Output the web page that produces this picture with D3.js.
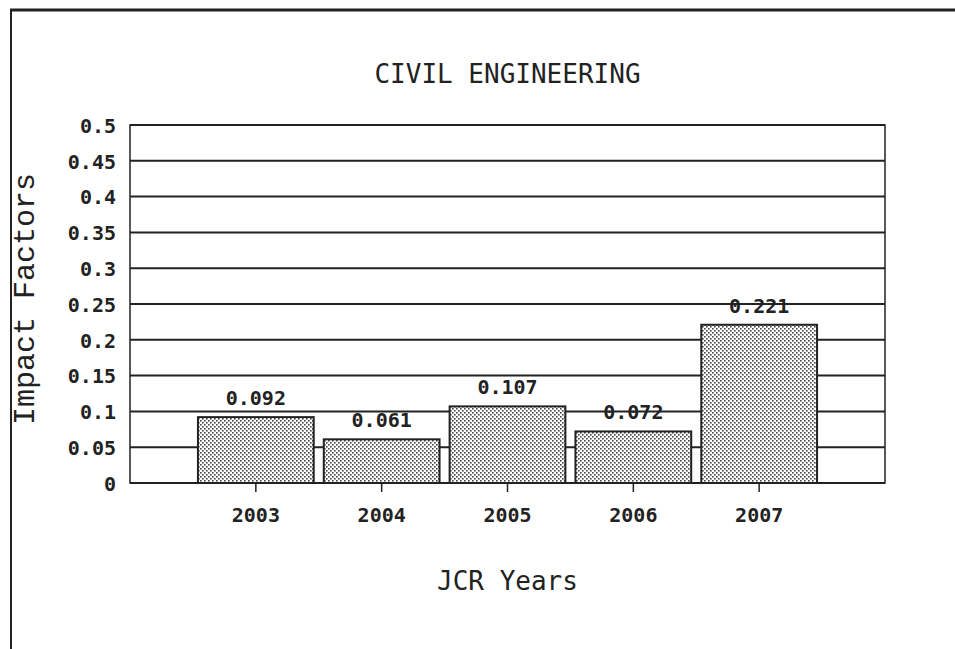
<!DOCTYPE html>
<html>
<head>
<meta charset="utf-8">
<script src="https://cdn.jsdelivr.net/npm/d3@7"></script>
<style>
    body { margin: 0; background: #fff; }
    .tick-label, .bar-label, .year-label {
        font-family: "DejaVu Sans Mono", monospace;
        font-weight: bold;
        font-size: 20px;
        fill: #222;
    }
    .chart-title, .axis-label {
        font-family: "DejaVu Sans Mono", monospace;
        font-size: 26px;
        fill: #222;
    }
    .y-label {
        font-family: "Liberation Mono", monospace;
        font-size: 30px;
        fill: #222;
    }
</style>
</head>
<body>
<script>
// Chart data
const years = ["2003", "2004", "2005", "2006", "2007"];
const impactFactors = [0.092, 0.061, 0.107, 0.072, 0.221];
const yTicks = [0, 0.05, 0.1, 0.15, 0.2, 0.25, 0.3, 0.35, 0.4, 0.45, 0.5];

// Set chart dimensions
const width = 955;
const height = 649;
const margin = {
    top: 125,
    right: 70,
    bottom: 166,
    left: 130
};

const svg = d3.select("body")
    .append("svg")
    .attr("width", width)
    .attr("height", height);

// Dotted fill for the bars
const pattern = svg.append("defs")
    .append("pattern")
    .attr("id", "dots")
    .attr("width", 4)
    .attr("height", 4)
    .attr("patternUnits", "userSpaceOnUse");
pattern.append("rect").attr("width", 4).attr("height", 4).attr("fill", "#fff");
pattern.append("rect").attr("x", 0).attr("y", 0).attr("width", 1.6).attr("height", 1.6).attr("fill", "#444");
pattern.append("rect").attr("x", 2).attr("y", 2).attr("width", 1.6).attr("height", 1.6).attr("fill", "#444");

// Outer frame (top and left edges only)
svg.append("line")
    .attr("x1", 10).attr("x2", width)
    .attr("y1", 10).attr("y2", 10)
    .attr("stroke", "#222").attr("stroke-width", 3);
svg.append("line")
    .attr("x1", 11).attr("x2", 11)
    .attr("y1", 9).attr("y2", height)
    .attr("stroke", "#222").attr("stroke-width", 2);

// Scales
const xScale = d3.scaleBand()
    .domain(years)
    .range([margin.left, width - margin.right])
    .paddingInner(0.08)
    .paddingOuter(0.54);

const yScale = d3.scaleLinear()
    .domain([0, 0.5])
    .range([height - margin.bottom, margin.top]);

// Gridlines
svg.append("g")
    .selectAll("line")
    .data(yTicks)
    .join("line")
    .attr("x1", margin.left)
    .attr("x2", width - margin.right)
    .attr("y1", d => yScale(d))
    .attr("y2", d => yScale(d))
    .attr("stroke", "#222")
    .attr("stroke-width", 2);

// Plot frame
svg.append("rect")
    .attr("x", margin.left)
    .attr("y", margin.top)
    .attr("width", width - margin.left - margin.right)
    .attr("height", height - margin.top - margin.bottom)
    .attr("fill", "none")
    .attr("stroke", "#222")
    .attr("stroke-width", 1.5);

// Bars
svg.append("g")
    .selectAll("rect")
    .data(years)
    .join("rect")
    .attr("x", d => xScale(d))
    .attr("y", (d, i) => yScale(impactFactors[i]))
    .attr("width", xScale.bandwidth())
    .attr("height", (d, i) => yScale(0) - yScale(impactFactors[i]))
    .attr("fill", "url(#dots)")
    .attr("stroke", "#222")
    .attr("stroke-width", 2);

// Value labels above bars
svg.append("g")
    .selectAll("text")
    .data(years)
    .join("text")
    .attr("class", "bar-label")
    .attr("x", d => xScale(d) + xScale.bandwidth() / 2)
    .attr("y", (d, i) => yScale(impactFactors[i]) - 12)
    .attr("text-anchor", "middle")
    .text((d, i) => impactFactors[i].toFixed(3));

// x-axis ticks and labels
const bottomAxis = d3.axisBottom(xScale)
    .tickSize(9)
    .tickPadding(16);

const xAxis = svg.append("g")
    .attr("transform", `translate(0, ${height - margin.bottom})`)
    .call(bottomAxis);
xAxis.select(".domain").remove();
xAxis.selectAll(".tick line").attr("stroke", "#222").attr("stroke-width", 1.5);
xAxis.selectAll(".tick text")
    .attr("class", "year-label")
    .attr("font-family", null)
    .attr("font-size", null)
    .attr("fill", null);

// y-axis labels
const leftAxis = d3.axisLeft(yScale)
    .tickValues(yTicks)
    .tickFormat(d => String(d))
    .tickSize(0)
    .tickPadding(14);

const yAxis = svg.append("g")
    .attr("transform", `translate(${margin.left}, 0)`)
    .call(leftAxis);
yAxis.select(".domain").remove();
yAxis.selectAll(".tick text")
    .attr("class", "tick-label")
    .attr("font-family", null)
    .attr("font-size", null)
    .attr("fill", null)
    .attr("dy", "0.36em");

// Chart title
svg.append("text")
    .attr("class", "chart-title")
    .attr("x", (margin.left + width - margin.right) / 2)
    .attr("y", 83)
    .attr("text-anchor", "middle")
    .text("CIVIL ENGINEERING");

// x-axis label
svg.append("text")
    .attr("class", "axis-label")
    .attr("x", (margin.left + width - margin.right) / 2)
    .attr("y", 590)
    .attr("text-anchor", "middle")
    .text("JCR Years");

// y-axis label
svg.append("text")
    .attr("class", "y-label")
    .attr("transform", "rotate(-90)")
    .attr("x", -299)
    .attr("y", 34)
    .attr("text-anchor", "middle")
    .text("Impact Factors");
</script>
</body>
</html>
